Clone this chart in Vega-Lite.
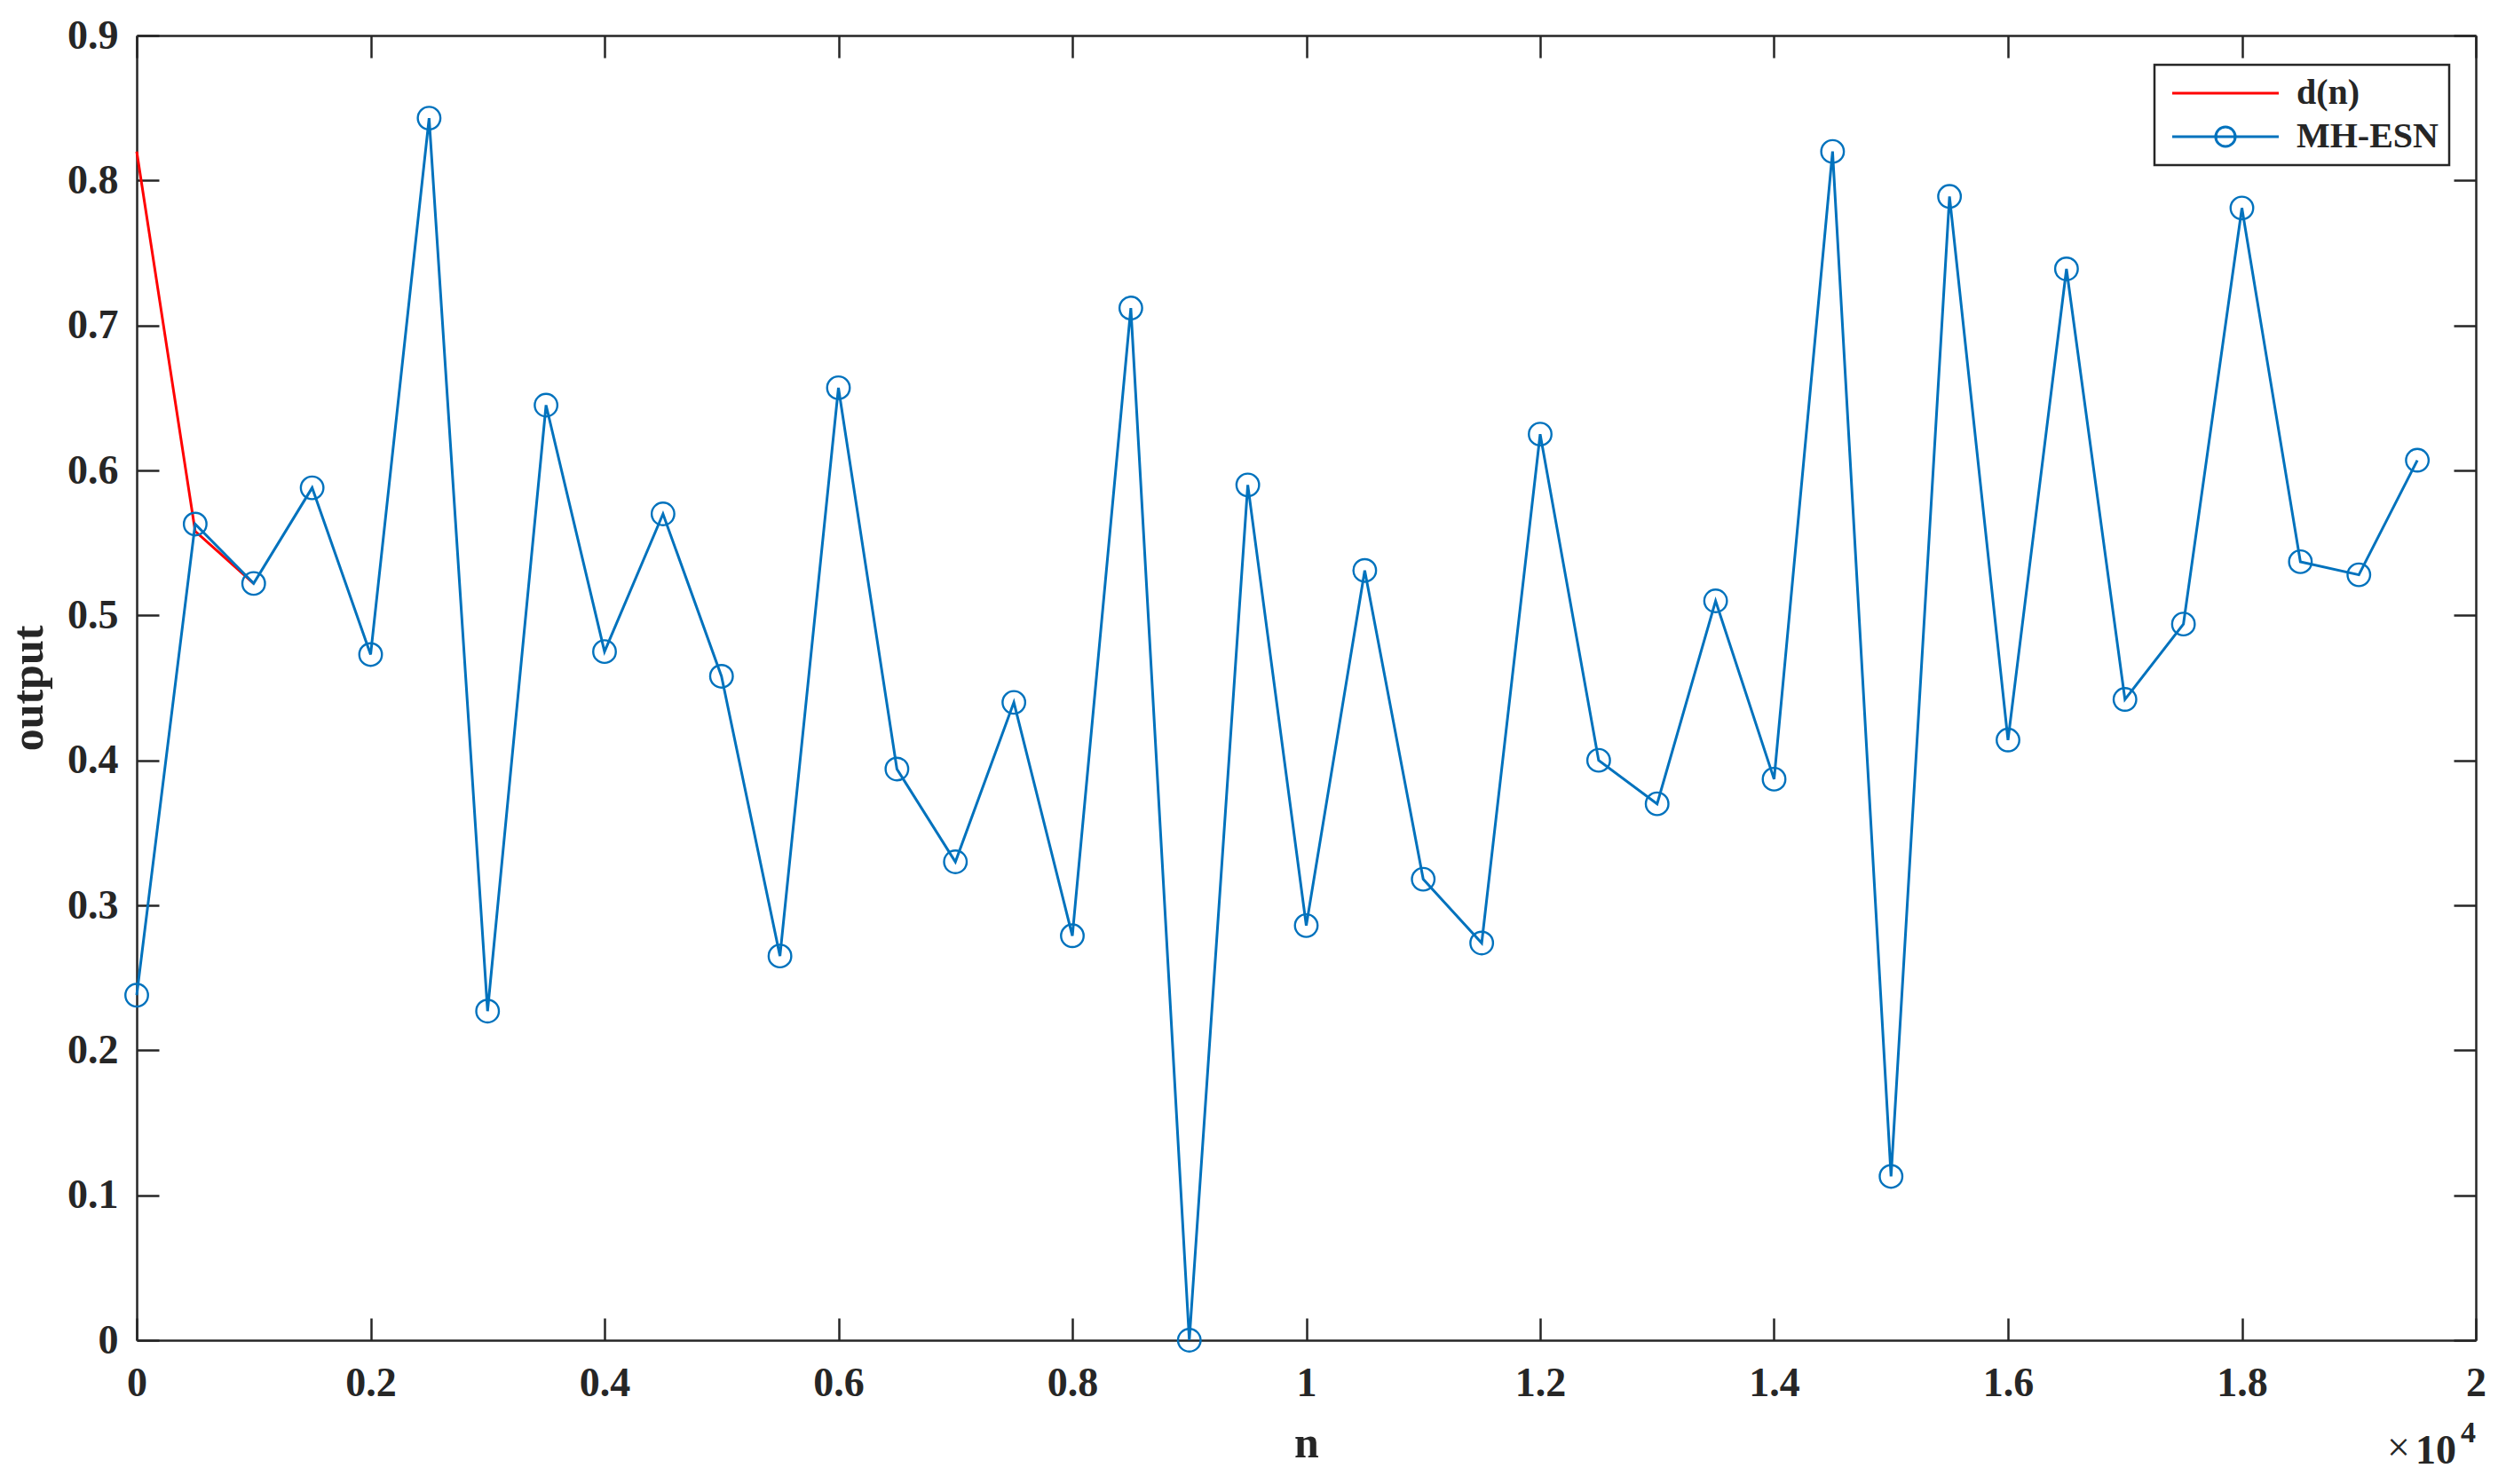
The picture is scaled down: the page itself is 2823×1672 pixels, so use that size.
{
  "$schema": "https://vega.github.io/schema/vega-lite/v6.json",
  "width": 2635,
  "height": 1470,
  "autosize": {"type": "none"},
  "padding": {"left": 154, "top": 40, "right": 34, "bottom": 162},
  "background": "white",
  "config": {
    "font": "Liberation Serif",
    "view": {"stroke": null},
    "axis": {
      "labelFont": "Liberation Serif", "labelFontWeight": "bold", "labelFontSize": 46, "labelColor": "#262626",
      "titleFont": "Liberation Serif", "titleFontWeight": "bold", "titleFontSize": 50, "titleColor": "#262626",
      "domainColor": "#262626", "domainWidth": 2.5, "tickColor": "#262626", "tickWidth": 2.5, "tickSize": -25, "grid": false
    }
  },
  "datasets": {
    "series": [
      {"n": 0, "output": 0.82, "series": "d(n)"},
      {"n": 500, "output": 0.558, "series": "d(n)"},
      {"n": 1000, "output": 0.522, "series": "d(n)"},
      {"n": 0, "output": 0.238, "series": "MH-ESN"},
      {"n": 500, "output": 0.563, "series": "MH-ESN"},
      {"n": 1000, "output": 0.522, "series": "MH-ESN"},
      {"n": 1500, "output": 0.588, "series": "MH-ESN"},
      {"n": 2000, "output": 0.473, "series": "MH-ESN"},
      {"n": 2500, "output": 0.843, "series": "MH-ESN"},
      {"n": 3000, "output": 0.227, "series": "MH-ESN"},
      {"n": 3500, "output": 0.645, "series": "MH-ESN"},
      {"n": 4000, "output": 0.475, "series": "MH-ESN"},
      {"n": 4500, "output": 0.570, "series": "MH-ESN"},
      {"n": 5000, "output": 0.458, "series": "MH-ESN"},
      {"n": 5500, "output": 0.265, "series": "MH-ESN"},
      {"n": 6000, "output": 0.657, "series": "MH-ESN"},
      {"n": 6500, "output": 0.394, "series": "MH-ESN"},
      {"n": 7000, "output": 0.330, "series": "MH-ESN"},
      {"n": 7500, "output": 0.440, "series": "MH-ESN"},
      {"n": 8000, "output": 0.279, "series": "MH-ESN"},
      {"n": 8500, "output": 0.712, "series": "MH-ESN"},
      {"n": 9000, "output": 0.0, "series": "MH-ESN"},
      {"n": 9500, "output": 0.590, "series": "MH-ESN"},
      {"n": 10000, "output": 0.286, "series": "MH-ESN"},
      {"n": 10500, "output": 0.531, "series": "MH-ESN"},
      {"n": 11000, "output": 0.318, "series": "MH-ESN"},
      {"n": 11500, "output": 0.274, "series": "MH-ESN"},
      {"n": 12000, "output": 0.625, "series": "MH-ESN"},
      {"n": 12500, "output": 0.400, "series": "MH-ESN"},
      {"n": 13000, "output": 0.370, "series": "MH-ESN"},
      {"n": 13500, "output": 0.510, "series": "MH-ESN"},
      {"n": 14000, "output": 0.387, "series": "MH-ESN"},
      {"n": 14500, "output": 0.820, "series": "MH-ESN"},
      {"n": 15000, "output": 0.113, "series": "MH-ESN"},
      {"n": 15500, "output": 0.789, "series": "MH-ESN"},
      {"n": 16000, "output": 0.414, "series": "MH-ESN"},
      {"n": 16500, "output": 0.739, "series": "MH-ESN"},
      {"n": 17000, "output": 0.442, "series": "MH-ESN"},
      {"n": 17500, "output": 0.494, "series": "MH-ESN"},
      {"n": 18000, "output": 0.781, "series": "MH-ESN"},
      {"n": 18500, "output": 0.537, "series": "MH-ESN"},
      {"n": 19000, "output": 0.528, "series": "MH-ESN"},
      {"n": 19500, "output": 0.607, "series": "MH-ESN"}
    ]
  },
  "resolve": {"axis": {"x": "independent", "y": "independent"}},
  "layer": [
    {
      "data": {"name": "series"},
      "mark": {"type": "line", "strokeWidth": 3},
      "encoding": {
        "x": {"field": "n", "type": "quantitative", "scale": {"domain": [0, 20000], "nice": false, "zero": false},
          "axis": {"orient": "bottom", "values": [0, 2000, 4000, 6000, 8000, 10000, 12000, 14000, 16000, 18000, 20000],
            "labelExpr": "'' + (datum.value / 10000)", "labelPadding": 51, "title": "n", "titlePadding": 20, "labelFlush": false}},
        "y": {"field": "output", "type": "quantitative", "scale": {"domain": [0, 0.9], "nice": false, "zero": false},
          "axis": {"orient": "left", "values": [0, 0.1, 0.2, 0.3, 0.4, 0.5, 0.6, 0.7, 0.8, 0.9],
            "labelExpr": "'' + datum.value", "labelPadding": 46, "title": "output", "titlePadding": 18, "labelFlush": false}},
        "color": {"field": "series", "type": "nominal",
          "scale": {"domain": ["d(n)", "MH-ESN"], "range": ["#FF0000", "#0072BD"]},
          "legend": {
            "orient": "none", "legendX": 2273, "legendY": 33, "title": null,
            "fillColor": "white", "strokeColor": "#262626", "padding": 12,
            "labelFont": "Liberation Serif", "labelFontWeight": "bold", "labelFontSize": 40, "labelColor": "#262626", "labelLimit": 400,
            "symbolSize": 576, "symbolStrokeWidth": 3, "labelOffset": 108, "rowPadding": 9, "symbolType": "stroke",
            "encode": {
              "legend": {"update": {"strokeWidth": {"value": 2.5}}},
              "symbols": {"update": {
                "shape": {"signal": "datum.value === 'MH-ESN' ? 'M-1,0H9M3.08,0A0.92,0.92 0 1 1 4.92,0A0.92,0.92 0 1 1 3.08,0' : 'M-1,0H9'"},
                "fill": {"value": "transparent"}}}
            }
          }
        },
        "order": {"field": "n", "type": "quantitative"}
      }
    },
    {
      "data": {"name": "series"},
      "transform": [{"filter": "datum.series === 'MH-ESN'"}],
      "mark": {"type": "point", "shape": "circle", "filled": false, "size": 650, "strokeWidth": 2.4, "color": "#0072BD", "opacity": 1},
      "encoding": {
        "x": {"field": "n", "type": "quantitative", "axis": null},
        "y": {"field": "output", "type": "quantitative", "axis": null}
      }
    },
    {
      "data": {"name": "series"},
      "mark": {"type": "line", "opacity": 0},
      "encoding": {
        "x": {"field": "n", "type": "quantitative",
          "axis": {"orient": "top", "values": [0, 2000, 4000, 6000, 8000, 10000, 12000, 14000, 16000, 18000, 20000], "labels": false, "title": null}},
        "y": {"field": "output", "type": "quantitative",
          "axis": {"orient": "right", "values": [0, 0.1, 0.2, 0.3, 0.4, 0.5, 0.6, 0.7, 0.8, 0.9], "labels": false, "title": null}},
        "detail": {"field": "series", "type": "nominal"}
      }
    },
    {
      "data": {"values": [{}]},
      "mark": {"type": "text", "text": "×", "align": "right", "baseline": "alphabetic", "dx": -74, "dy": -3, "font": "Liberation Serif", "fontSize": 46, "fontWeight": "normal", "color": "#262626", "clip": false},
      "encoding": {"x": {"datum": 20000, "type": "quantitative", "axis": null}, "y": {"datum": -0.085, "type": "quantitative", "axis": null}}
    },
    {
      "data": {"values": [{}]},
      "mark": {"type": "text", "text": "10", "align": "right", "baseline": "alphabetic", "dx": -22, "font": "Liberation Serif", "fontSize": 46, "fontWeight": "bold", "color": "#262626", "clip": false},
      "encoding": {"x": {"datum": 20000, "type": "quantitative", "axis": null}, "y": {"datum": -0.085, "type": "quantitative", "axis": null}}
    },
    {
      "data": {"values": [{}]},
      "mark": {"type": "text", "text": "4", "align": "right", "baseline": "alphabetic", "dx": 0, "dy": -24, "font": "Liberation Serif", "fontSize": 34, "fontWeight": "bold", "color": "#262626", "clip": false},
      "encoding": {"x": {"datum": 20000, "type": "quantitative", "axis": null}, "y": {"datum": -0.085, "type": "quantitative", "axis": null}}
    }
  ]
}
